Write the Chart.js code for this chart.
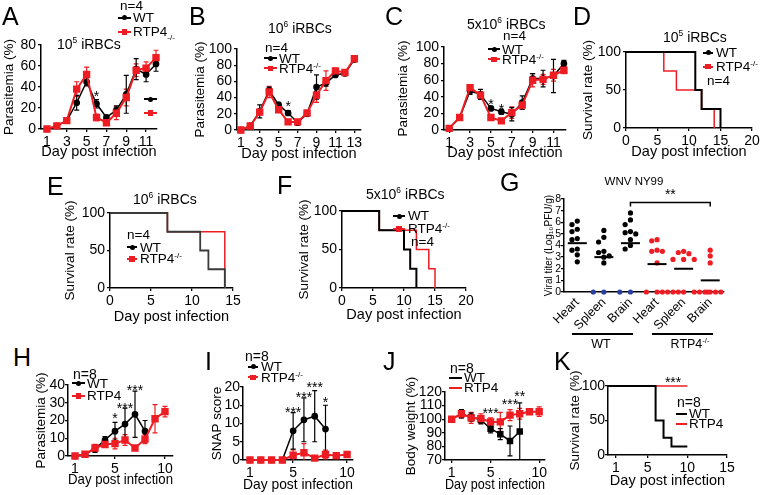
<!DOCTYPE html>
<html>
<head>
<meta charset="utf-8">
<script src="https://cdn.jsdelivr.net/npm/chart.js@4.4.1/dist/chart.umd.min.js"></script>
<style>
  body { margin: 0; background: #fff; }
  #fig { position: relative; width: 762px; height: 495px; overflow: hidden; font-family: 'Liberation Sans', Arial, sans-serif; color: #000; }
  #fig canvas { position: absolute; }
  .t { position: absolute; white-space: nowrap; }
  .t sup, .t sub { font-size: 0.6em; line-height: 0; }
  .ln, .mk { position: absolute; }
</style>
</head>
<body>
<div id="fig"></div>
<script>
const RED = '#ee1d23';
const BLUE = '#2a3f9d';
const FONT = "'Liberation Sans', Arial, sans-serif";
const fig = document.getElementById('fig');

// A: 10^5 iRBCs parasitemia
const daysA = [1, 2, 3, 4, 5, 6, 7, 8, 9, 10, 11, 12];
const wtA = [0, 3, 8, 25, 45, 24, 11, 18, 33, 57, 52, 62];
const wtAErr = [0.5, 1, 2, 7, 4, 4, 1, 4, 18, 10, 7, 7];
const koA = [0, 3, 8, 38, 52, 11, 6, 15, 30, 56, 58, 68];
const koAErr = [0.5, 1, 2, 7, 7, 3, 2, 6, 8, 6, 6, 7];

// B: 10^6 iRBCs
const daysB = [1, 2, 3, 4, 5, 6, 7, 8, 9, 10, 11, 12, 13];
const wtB = [0, 5, 23, 49, 31, 21, 9, 20, 53, 58, 68, 70, 87];
const wtBErr = [0.5, 1, 8, 4, 3, 3, 1, 3, 15, 4, 2, 3, 1];
const koB = [0, 5, 22, 47, 25, 10, 10, 21, 43, 61, 73, 71, 88];
const koBErr = [0.5, 1, 3, 7, 3, 2, 1, 3, 9, 12, 3, 3, 1];

// C: 5x10^6 iRBCs
const daysC = [1, 2, 3, 4, 5, 6, 7, 8, 9, 10, 11, 12];
const wtC = [2, 15, 47, 43, 26, 22, 19, 33, 62, 62, 65, 80];
const wtCErr = [0.5, 1, 4, 6, 2, 3, 8, 8, 6, 10, 20, 4];
const koC = [2, 15, 51, 42, 15, 11, 21, 30, 60, 61, 66, 72];
const koCErr = [0.5, 1, 3, 4, 2, 2, 7, 5, 8, 6, 7, 4];

// D-F, K: survival (day of event, % surviving after it)
const survDWtDays = [0, 11, 12, 15];
const survDWt = [100, 50, 25, 0];
const survDKoDays = [0, 6, 8, 12, 14];
const survDKo = [100, 75, 50, 25, 0];

const survEWtDays = [0, 7, 11, 12, 14];
const survEWt = [100, 75, 50, 25, 0];
const survEKoDays = [0, 7, 14];
const survEKo = [100, 75, 0];

const survFWtDays = [0, 6, 10, 11, 12];
const survFWt = [100, 75, 50, 25, 0];
const survFKoDays = [0, 6, 12, 14, 15];
const survFKo = [100, 75, 50, 25, 0];

const survKWtDays = [0, 6, 7, 8, 10];
const survKWt = [100, 50, 25, 12.5, 12.5];
const survKKoDays = [0, 10];
const survKKo = [100, 100];

// G: WNV NY99 viral titer
const gCategories = ['Heart', 'Spleen', 'Brain', 'Heart', 'Spleen', 'Brain'];
const heartWt = [6.1, 5.8, 5.4, 5.2, 4.6, 4.5, 3.7, 3.6, 3.2, 2.6];
const spleenWt = [5.3, 4.7, 4.3, 3.5, 3.4, 3.1, 3.0, 2.5, 0, 0];
const brainWt = [6.8, 6.2, 5.8, 5.2, 5.1, 5.0, 4.5, 4.0, 3.7, 0, 0];
const heartKo = [4.5, 4.4, 3.6, 3.5, 3.5, 2.5, 0, 0, 0, 0];
const spleenKo = [3.5, 3.4, 3.3, 2.8, 2.8, 2.8, 0, 0, 0, 0];
const brainKo = [3.6, 3.1, 2.5, 0, 0, 0, 0, 0, 0];
const gMedians = [4.2, 3.0, 4.2, 2.4, 2.0, 1.0];

// H-J: second infection, days 1-10
const daysH = [1, 2, 3, 4, 5, 6, 7, 8, 9, 10];
const wtH = [0, 1, 4, 9, 14, 18, 23.5, 14];
const wtHErr = [0.5, 0.5, 2, 2, 5, 9, 13, 6];
const koH = [0, 1, 4.5, 6.5, 7, 9, 4.5, 9.5, 21, 25];
const koHErr = [0.5, 0.5, 2, 1, 3, 3, 1, 2.5, 8, 3];

const wtI = [0, 0, 0, 0, 8, 11, 12, 8.5];
const wtIErr = [0, 0, 0, 0, 5, 6, 7, 6.5];
const koI = [0, 0, 0, 0, 1.3, 2, 0.5, 1.5, 1.2, 1.5];
const koIErr = [0, 0, 0, 0, 1.5, 2.5, 0.7, 1.2, 0.8, 0.5];
const ticksIY = ['0', '5', '10', '10', '20'];

const wtJ = [100, 104, 101.5, 99.5, 93, 89, 84, 91];
const wtJErr = [0.5, 3, 3, 3, 3, 4, 11, 21];
const koJ = [100, 104, 101, 100.5, 98, 98, 103, 104, 105.5, 105.5];
const koJErr = [0.5, 3, 4, 3.5, 3, 7, 4, 4, 2, 3.5];

function pts(days, vals) {
    return vals.map((v, i) => ({ x: days[i], y: v }));
}

function wtSet(days, vals, errs, marker) {
    return {
        data: pts(days, vals), errors: errs, borderColor: '#000', backgroundColor: '#000',
        borderWidth: 1.5, pointStyle: marker || 'circle', pointRadius: marker === 'rect' ? 3.5 : 2.6, clip: false,
    };
}

function koSet(days, vals, errs) {
    return {
        data: pts(days, vals), errors: errs, borderColor: RED, backgroundColor: RED,
        borderWidth: 2, pointStyle: 'rect', pointRadius: 3.8, clip: false,
    };
}

function survSet(days, vals, color, width) {
    return { data: pts(days, vals), borderColor: color, borderWidth: width, stepped: 'before', pointRadius: 0, clip: false };
}

// error bars, stars and the bracket drawn through the chart scales
Chart.register({
    id: 'extras',
    beforeDatasetsDraw(chart) {
        const ctx = chart.ctx, xs = chart.scales.x, ys = chart.scales.y, a = chart.chartArea;
        ctx.save();
        ctx.beginPath();
        ctx.rect(a.left - 8, a.top - 20, a.right - a.left + 16, a.bottom - a.top + 20);
        ctx.clip();
        chart.data.datasets.forEach(ds => {
            if (!ds.errors) return;
            ctx.strokeStyle = ds.borderColor;
            ctx.lineWidth = 1.2;
            ds.data.forEach((p, i) => {
                const e = ds.errors[i];
                if (p.y == null || !e) return;
                const px = xs.getPixelForValue(p.x);
                const y1 = ys.getPixelForValue(p.y + e), y2 = ys.getPixelForValue(p.y - e);
                ctx.beginPath();
                ctx.moveTo(px, y1); ctx.lineTo(px, y2);
                ctx.moveTo(px - 2.5, y1); ctx.lineTo(px + 2.5, y1);
                ctx.moveTo(px - 2.5, y2); ctx.lineTo(px + 2.5, y2);
                ctx.stroke();
            });
        });
        ctx.restore();
    },
    afterDatasetsDraw(chart) {
        const ctx = chart.ctx, xs = chart.scales.x, ys = chart.scales.y;
        const ex = chart.canvas._extras;
        ctx.save();
        ctx.fillStyle = '#000';
        ctx.textAlign = 'center';
        ctx.textBaseline = 'alphabetic';
        ctx.font = `14px ${FONT}`;
        (ex.stars || []).forEach(s => {
            ctx.fillText(s.t, xs.getPixelForValue(s.x), ys.getPixelForValue(s.y) + 0.57 * 14);
        });
        if (ex.bracket) {
            const br = ex.bracket;
            const x1 = xs.getPixelForValue(br.from), x2 = xs.getPixelForValue(br.to);
            const yy = ys.getPixelForValue(br.y), yd = ys.getPixelForValue(br.y - br.drop);
            ctx.strokeStyle = '#000';
            ctx.lineWidth = 1.5;
            ctx.beginPath();
            ctx.moveTo(x1, yd); ctx.lineTo(x1, yy); ctx.lineTo(x2, yy); ctx.lineTo(x2, yd);
            ctx.stroke();
            ctx.fillText(br.text, (x1 + x2) / 2, yy - 3);
        }
        ctx.restore();
    },
});

function axis(min, max, ticks, o) {
    return {
        type: 'linear', min: min, max: max,
        afterBuildTicks: s => { s.ticks = ticks.map(v => ({ value: v })); },
        afterFit: s => { s[o.fit[0]] = o.fit[1]; },
        ticks: {
            color: '#000', autoSkip: false, maxRotation: o.rot || 0, minRotation: o.rot || 0,
            padding: o.pad == null ? 2 : o.pad,
            font: { family: FONT, size: o.size || 14 },
            callback: (v, i) => (o.labels ? o.labels[i] : String(v)),
        },
        grid: { drawOnChartArea: false, drawTicks: !o.noTicks, tickLength: 3, color: '#000', lineWidth: 1.3 },
        border: { color: '#000', width: 1.5 },
        title: { display: !!o.title, text: o.title, color: '#000', padding: 0, font: { family: FONT, size: o.titleSize } },
    };
}

function makeChart(o) {
    const [l, t, r, b] = o.area;
    const yts = o.yTitleSize || 13.5, xts = o.xTitleSize || 14.5;
    const cl = Math.round(o.yTitleX - yts * 0.6);
    const ct = t - (o.padTop || 30);
    const cr = r + (o.padRight || 12);
    const cb = o.bottom || Math.round(o.xTitleY + xts * 0.6);
    const cv = document.createElement('canvas');
    cv.width = cr - cl;
    cv.height = cb - ct;
    cv.style.left = cl + 'px';
    cv.style.top = ct + 'px';
    fig.appendChild(cv);
    cv._extras = o.extras || {};

    const x = axis(o.x[0], o.x[1], o.xTicks, {
        title: o.xTitle === undefined ? 'Day post infection' : o.xTitle, labels: o.xLabels, size: o.xTickSize,
        titleSize: xts, rot: o.xRot, noTicks: o.xNoTicks, pad: o.xPad, fit: ['height', cb - b],
    });
    const y = axis(o.y[0], o.y[1], o.yTicks, {
        title: o.yTitle, labels: o.yLabels, size: o.yTickSize, titleSize: yts, pad: o.yPad, fit: ['width', l - cl],
    });
    x.position = 'bottom';
    y.position = 'left';

    return new Chart(cv, {
        type: 'line',
        data: { datasets: o.datasets },
        options: {
            responsive: false,
            animation: false,
            events: [],
            layout: { padding: { left: 0, top: t - ct, right: cr - r, bottom: 0 } },
            plugins: { legend: { display: false }, tooltip: { enabled: false } },
            scales: { x: x, y: y },
        },
    });
}

// simple beeswarm so points with close values spread sideways
function swarm(vals, center) {
    const offs = [0, -0.2, 0.2, -0.4, 0.4, -0.1, 0.1, -0.3, 0.3];
    const placed = [];
    vals.forEach(v => {
        let best = 0, bestD = -1;
        for (const of of offs) {
            const d = Math.min(Infinity, ...placed.map(p => Math.hypot((p.x - center - of) * 27, (p.y - v) * 11.5)));
            if (d >= 5.5) { best = of; bestD = Infinity; break; }
            if (d > bestD) { bestD = d; best = of; }
        }
        placed.push({ x: center + best, y: v });
    });
    return placed;
}

function txt(x, cy, html, size, center) {
    const d = document.createElement('div');
    d.className = 't';
    d.innerHTML = html;
    d.style.cssText = `left:${x}px;top:${cy - size / 2}px;font-size:${size}px;line-height:${size}px;` +
        (center ? 'transform:translateX(-50%);' : '');
    fig.appendChild(d);
}

function sym(x1, x2, cy, color, marker) {
    const line = document.createElement('div');
    line.className = 'ln';
    line.style.cssText = `left:${x1}px;top:${cy - 1}px;width:${x2 - x1}px;height:2px;background:${color}`;
    fig.appendChild(line);
    if (!marker) return;
    const s = marker === 'rect' ? 5.5 : 5;
    const m = document.createElement('div');
    m.className = 'mk';
    m.style.cssText = `left:${(x1 + x2) / 2 - s / 2}px;top:${cy - s / 2}px;width:${s}px;height:${s}px;background:${color};` +
        (marker === 'circle' ? 'border-radius:50%' : '');
    fig.appendChild(m);
}

// ---- row 1
makeChart({
    area: [41, 45, 157, 129], yTitleX: 9, xTitleY: 152,
    x: [0.4, 12.1], xTicks: [1, 3, 5, 7, 9, 11], y: [0, 80], yTicks: [0, 20, 40, 60, 80],
    yTitle: 'Parasitemia (%)',
    datasets: [koSet(daysA, koA, koAErr), wtSet(daysA, wtA, wtAErr)],
    extras: { stars: [{ x: 6, y: 34, t: '*' }] },
});
makeChart({
    area: [237, 49, 361, 130], yTitleX: 200, xTitleY: 154,
    x: [0.6, 13.7], xTicks: [1, 3, 5, 7, 9, 11, 13], y: [0, 100], yTicks: [0, 20, 40, 60, 80, 100],
    yTitle: 'Parasitemia (%)',
    datasets: [koSet(daysB, koB, koBErr), wtSet(daysB, wtB, wtBErr)],
    extras: { stars: [{ x: 6, y: 33, t: '*' }] },
});
makeChart({
    area: [444, 47, 566, 130], yTitleX: 403.5, xTitleY: 152.8,
    x: [0.5, 12.2], xTicks: [1, 3, 5, 7, 9, 11], y: [0, 100], yTicks: [0, 20, 40, 60, 80, 100],
    yTitle: 'Parasitemia (%)',
    datasets: [koSet(daysC, koC, koCErr), wtSet(daysC, wtC, wtCErr)],
    extras: { stars: [{ x: 5, y: 35, t: '*' }, { x: 6, y: 29, t: '*' }] },
});
makeChart({
    area: [626, 52, 752, 128], yTitleX: 588.5, xTitleY: 152, padRight: 10,
    x: [0, 20], xTicks: [0, 5, 10, 15, 20], y: [0, 100], yTicks: [0, 50, 100],
    yTitle: 'Survival rate (%)',
    datasets: [survSet(survDWtDays, survDWt, '#000', 2), survSet(survDKoDays, survDKo, RED, 1.5)],
});

// ---- row 2
makeChart({
    area: [110, 213, 233, 288], yTitleX: 70, xTitleY: 317,
    x: [0, 15], xTicks: [0, 5, 10, 15], y: [0, 100], yTicks: [0, 50, 100],
    yTitle: 'Survival rate (%)',
    datasets: [survSet(survEWtDays, survEWt, '#3a3a3a', 1.8), survSet(survEKoDays, survEKo, RED, 1.5)],
});
makeChart({
    area: [342, 211, 466, 288], yTitleX: 304, xTitleY: 315,
    x: [0, 20], xTicks: [0, 5, 10, 15, 20], y: [0, 100], yTicks: [0, 50, 100],
    yTitle: 'Survival rate (%)',
    datasets: [survSet(survFWtDays, survFWt, '#000', 2), survSet(survFKoDays, survFKo, RED, 1.5)],
});

const gGroups = [heartWt, spleenWt, brainWt, heartKo, spleenKo, brainKo];
const gPts = [], gCols = [];
gGroups.forEach((vals, g) => {
    swarm(vals, g + 1).forEach(p => {
        gPts.push(p);
        gCols.push(g >= 3 ? RED : (p.y === 0 ? BLUE : '#000'));
    });
});
makeChart({
    area: [564, 199, 727, 292], yTitleX: 549, yTitleSize: 10, bottom: 336, padTop: 30, padRight: 8,
    x: [0.5, 6.5], xTicks: [1, 2, 3, 4, 5, 6], xLabels: gCategories, xTitle: '', xRot: 45, xNoTicks: true, xPad: 3, xTickSize: 12.5,
    y: [0, 8], yTicks: [0, 1, 2, 3, 4, 5, 6, 7, 8], yTickSize: 10.5, yPad: 0,
    yTitle: 'Viral titer (Log\u2081\u2080PFU/g)',
    datasets: [
        {
            data: gMedians.map((m, i) => ({ x: i + 1, y: m })), showLine: false, pointStyle: 'line',
            pointRadius: 9.5, pointBorderWidth: 2, pointBorderColor: '#000', clip: false,
        },
        {
            data: gPts, showLine: false, pointRadius: 2.6, pointBorderWidth: 0,
            pointBackgroundColor: gCols, pointBorderColor: gCols, clip: false,
        },
    ],
    extras: { bracket: { from: 3, to: 6, y: 7.7, drop: 0.35, text: '**' } },
});

// ---- row 3
makeChart({
    area: [68, 385, 173, 456], yTitleX: 41, xTitleY: 480, yPad: 0,
    x: [0.3, 10.8], xTicks: [1, 5, 10], y: [0, 40], yTicks: [0, 10, 20, 30, 40],
    yTitle: 'Parasitemia (%)',
    datasets: [koSet(daysH, koH, koHErr), wtSet(daysH, wtH, wtHErr)],
    extras: { stars: [{ x: 5, y: 23, t: '*' }, { x: 6, y: 28.7, t: '***' }, { x: 7, y: 39, t: '***' }] },
});
makeChart({
    area: [243, 387, 353, 460], yTitleX: 217.5, xTitleY: 485.5, yPad: 0,
    x: [0.35, 10.55], xTicks: [1, 5, 10], y: [0, 20], yTicks: [0, 5, 10, 15, 20], yLabels: ticksIY,
    yTitle: 'SNAP score',
    datasets: [koSet(daysH, koI, koIErr), wtSet(daysH, wtI, wtIErr)],
    extras: { stars: [{ x: 5, y: 14, t: '***' }, { x: 6, y: 18.2, t: '***' }, { x: 7, y: 20.9, t: '***' }, { x: 8, y: 16.6, t: '*' }] },
});
makeChart({
    area: [445, 392, 545, 460], yTitleX: 411, xTitleY: 485, yPad: 0,
    x: [0.31, 10.6], xTicks: [1, 5, 10], y: [70, 120], yTicks: [70, 80, 90, 100, 110, 120],
    yTitle: 'Body weight (%)',
    datasets: [koSet(daysH, koJ, koJErr), wtSet(daysH, wtJ, wtJErr, 'rect')],
    extras: { stars: [{ x: 5, y: 107, t: '***' }, { x: 7, y: 113.4, t: '***' }, { x: 8, y: 119.3, t: '**' }] },
});
makeChart({
    area: [608, 386, 727, 455], yTitleX: 575, xTitleY: 481.7, yPad: 0,
    x: [0, 15], xTicks: [1, 5, 10, 15], y: [0, 100], yTicks: [0, 50, 100],
    yTitle: 'Survival rate (%)',
    datasets: [survSet(survKWtDays, survKWt, '#000', 2), survSet(survKKoDays, survKKo, RED, 1.5)],
    extras: { stars: [{ x: 8.2, y: 110, t: '***' }] },
});

// ---- panel letters
[['A', 2, 16], ['B', 189, 16], ['C', 385, 16], ['D', 573, 16], ['E', 47, 186], ['F', 277, 185],
 ['G', 500, 182], ['H', 13, 357], ['I', 205, 361], ['J', 383, 361], ['K', 554, 361]]
    .forEach(([s, x, y]) => txt(x, y, s, 25));

// ---- titles and legends
const KO = 'RTP4<sup>-/-</sup>';
const LS = 13.5;
txt(57, 44, '10<sup>5</sup> iRBCs', 14);
txt(120, 5.5, 'n=4', LS);
sym(118, 131, 17.5, '#000', 'circle'); txt(133, 17.5, 'WT', LS);
sym(118, 131, 32, RED, 'rect'); txt(133, 32, 'RTP4<sub>-/-</sub>', LS);
sym(144, 157, 99, '#000', 'circle');
sym(144, 157, 113, RED, 'rect');

txt(268, 28, '10<sup>6</sup> iRBCs', 14);
txt(265, 48, 'n=4', LS);
sym(264, 277, 58.3, '#000', 'circle'); txt(279, 58.3, 'WT', LS);
sym(264, 277, 68.3, RED, 'rect'); txt(279, 68.3, KO, LS);

txt(467, 24, '5x10<sup>6</sup> iRBCs', 14);
txt(503, 36, 'n=4', LS);
sym(488, 500, 49.3, '#000', 'circle'); txt(502, 49.3, 'WT', LS);
sym(488, 500, 59.3, RED, 'rect'); txt(502, 59.3, KO, LS);

txt(663, 37, '10<sup>5</sup> iRBCs', 14);
sym(703, 713, 52.7, '#000', 'circle'); txt(716, 52.7, 'WT', LS);
sym(703, 713, 66.7, RED, 'rect'); txt(716, 66.7, KO, LS);
txt(707, 81, 'n=4', LS);

txt(133, 199, '10<sup>6</sup> iRBCs', 14);
txt(127, 235, 'n=4', LS);
sym(127, 137, 247.3, '#000', 'circle'); txt(140, 247.3, 'WT', LS);
sym(127, 137, 259, RED, 'rect'); txt(140, 259, KO, LS);

txt(366, 194, '5x10<sup>6</sup> iRBCs', 14);
sym(393, 405, 216, '#000', 'circle'); txt(408, 216, 'WT', LS);
sym(393, 405, 229, RED, 'rect'); txt(408, 229, KO, LS);
txt(411, 242, 'n=4', LS);

txt(634, 182, 'WNV NY99', 11.5, true);
sym(572, 633, 334, '#000'); txt(601, 344, 'WT', 12.5, true);
sym(652, 713, 334, '#000'); txt(690, 344, KO, 12.5, true);

txt(73, 374, 'n=8', 14);
sym(72, 85, 383.3, '#000', 'circle'); txt(87, 383.3, 'WT', LS);
sym(72, 85, 396, RED, 'rect'); txt(87, 396, 'RTP4', LS);

txt(245, 356, 'n=8', 14);
sym(248, 258, 366.7, '#000', 'circle'); txt(261, 366.7, 'WT', LS);
sym(248, 258, 377.3, RED, 'rect'); txt(261, 377.3, KO, LS);

txt(450, 368, 'n=8', 14);
sym(449, 462, 378, '#000'); txt(464, 378, 'WT', LS);
sym(449, 462, 388, RED); txt(464, 388, 'RTP4', LS);

txt(677, 402, 'n=8', 14);
sym(676, 687, 414, '#000'); txt(689, 414, 'WT', LS);
sym(676, 687, 424, RED); txt(689, 424, 'RTP4', LS);
</script>
</body>
</html>
